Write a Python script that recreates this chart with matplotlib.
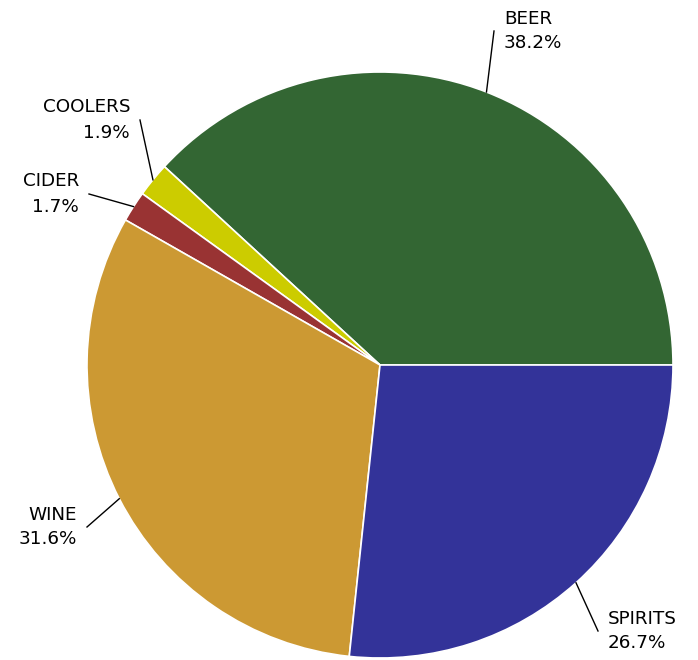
import numpy as np
import matplotlib.pyplot as plt

# Share of alcohol sales by category
categories = ["BEER", "COOLERS", "CIDER", "WINE", "SPIRITS"]
shares = [38.2, 1.9, 1.7, 31.6, 26.7]
colors = ["#336633", "#CCCC00", "#993333", "#CC9933", "#333399"]

# label anchor (end of leader line) in pixels, and text side
W, H = 698, 660
cx, cy, rad = 380, H - 365, 293
label_ends = {
    "BEER": (494, H - 31),
    "COOLERS": (140, H - 120),
    "CIDER": (89, H - 194),
    "WINE": (87, H - 527),
    "SPIRITS": (598, H - 631),
}

fig = plt.figure(figsize=(W / 100, H / 100), dpi=100)
ax = fig.add_axes([0, 0, 1, 1])

wedges, _ = ax.pie(shares, colors=colors, startangle=0, counterclock=True,
                   center=(cx, cy), radius=rad, frame=True,
                   wedgeprops=dict(edgecolor="white", linewidth=1.2))
ax.set_xlim(0, W)
ax.set_ylim(0, H)
ax.set_aspect("equal")
ax.axis("off")

for w, name, val in zip(wedges, categories, shares):
    mid = np.deg2rad((w.theta1 + w.theta2) / 2)
    x0 = cx + rad * np.cos(mid)
    y0 = cy + rad * np.sin(mid)
    x1, y1 = label_ends[name]
    ax.plot([x0, x1], [y0, y1], color="black", lw=1.0)
    right = x1 > cx
    ax.text(x1 + (10 if right else -10), y1, f"{name}\n{val:.1f}%",
            ha="left" if right else "right", va="center",
            multialignment="left" if right else "right",
            fontsize=13.2, linespacing=1.5, color="black")

fig.savefig("out.png", dpi=100)
